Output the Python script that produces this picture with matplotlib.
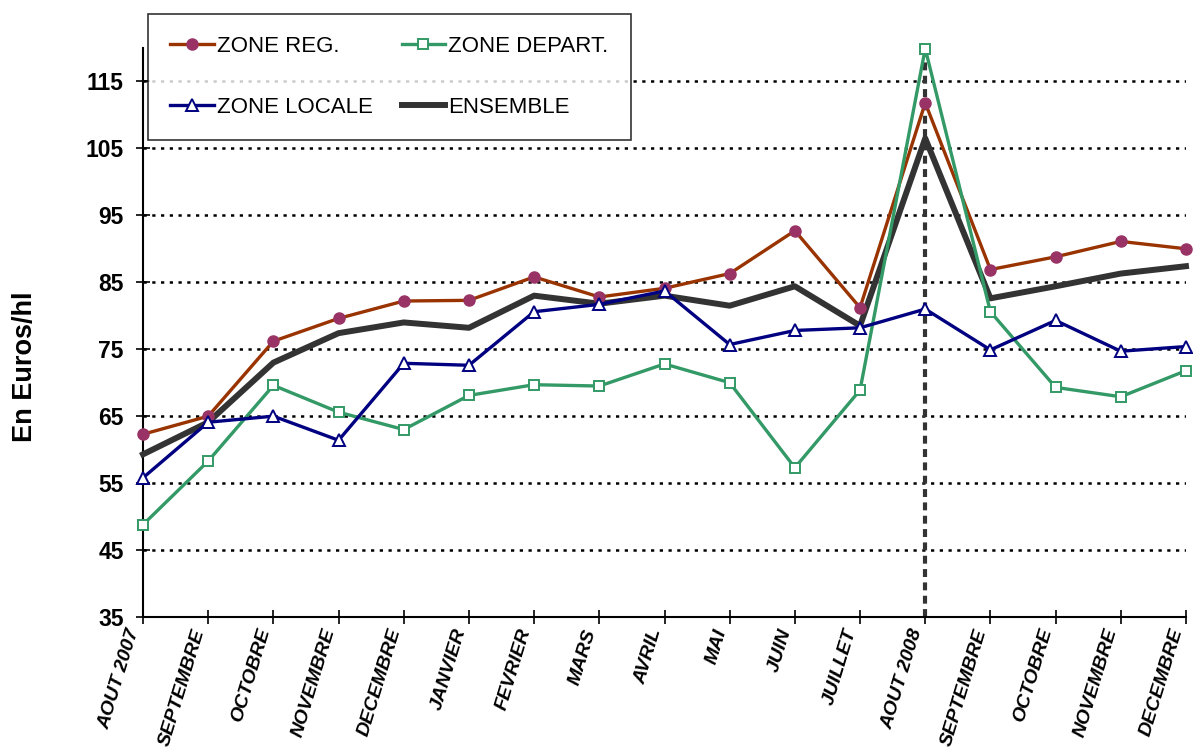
import numpy as np
import matplotlib
matplotlib.use("Agg")
import matplotlib.pyplot as plt

plt.rcParams['font.family'] = ['Liberation Sans', 'DejaVu Sans']

months = ["AOUT 2007", "SEPTEMBRE", "OCTOBRE", "NOVEMBRE", "DECEMBRE", "JANVIER",
          "FEVRIER", "MARS", "AVRIL", "MAI", "JUIN", "JUILLET", "AOUT 2008",
          "SEPTEMBRE", "OCTOBRE", "NOVEMBRE", "DECEMBRE"]

zone_reg = [62.3, 65.0, 76.2, 79.6, 82.2, 82.3, 85.8, 82.8, 84.1, 86.3, 92.7,
            81.2, 111.8, 86.9, 88.8, 91.1, 90.0]
zone_depart = [48.8, 58.3, 69.6, 65.6, 63.0, 68.1, 69.7, 69.5, 72.8, 70.0, 57.3,
               68.9, 119.9, 80.6, 69.3, 67.9, 71.8]
zone_locale = [55.8, 64.1, 65.0, 61.4, 72.9, 72.6, 80.6, 81.7, 83.7, 75.7, 77.8,
               78.2, 81.0, 74.9, 79.3, 74.7, 75.4]
ensemble = [59.3, 64.1, 73.0, 77.4, 79.0, 78.2, 83.0, 81.8, 83.0, 81.5, 84.4,
            78.5, 106.5, 82.6, 84.4, 86.3, 87.4]

yticks = [35, 45, 55, 65, 75, 85, 95, 105, 115]
marker_month = 12  # AOUT 2008

fig = plt.figure(figsize=(11.93, 7.49), dpi=100)
ax = fig.add_axes([0.1199, 0.1762, 0.8742, 0.7598])

x = np.arange(len(months))

for yv in yticks[1:]:
    ax.axhline(yv, color="black", lw=1.8, ls=(0, (1.3, 2.2)), zorder=1)

ax.axvline(marker_month, ymax=0.988, color="#333333", lw=3, ls=(0, (1.9, 1.3)), zorder=2)

l_reg, = ax.plot(x, zone_reg, color="#993300", lw=2.4, marker="o", ms=8,
                 mfc="#993366", mec="#993366", zorder=4, clip_on=False)
l_dep, = ax.plot(x, zone_depart, color="#339966", lw=2.4, marker="s", ms=7,
                 mfc="white", mec="#339966", mew=1.4, zorder=4, clip_on=False)
l_loc, = ax.plot(x, zone_locale, color="#000080", lw=2.4, marker="^", ms=8.5,
                 mfc="white", mec="#000080", mew=1.4, zorder=5, clip_on=False)
l_ens, = ax.plot(x, ensemble, color="#333333", lw=4.3, zorder=3, clip_on=False)

ax.set_xlim(0, len(months) - 1)
ax.set_ylim(35, 120)
ax.set_yticks(yticks)
ax.set_yticklabels([str(v) for v in yticks], fontsize=16.5, fontweight="bold")
ax.set_xticks(x)
ax.set_xticklabels(months, rotation=73, ha="right", va="top", fontsize=14,
                   fontweight="bold", fontstyle="italic")
ax.tick_params(axis="both", direction="inout", length=10, width=1.2, color="black")
ax.tick_params(axis="y", pad=9)
ax.tick_params(axis="x", pad=2)

for side in ["top", "right"]:
    ax.spines[side].set_visible(False)
for side in ["left", "bottom"]:
    ax.spines[side].set_linewidth(1.5)
    ax.spines[side].set_color("black")

fig.text(25 / 1193, 1 - 367 / 749, "En Euros/hl", rotation=90, ha="center", va="center",
         fontsize=19.5, fontweight="bold")

leg = fig.legend([l_reg, l_loc, l_dep, l_ens],
                 ["ZONE REG.", "ZONE LOCALE", "ZONE DEPART.", "ENSEMBLE"],
                 ncol=2, loc="upper left", bbox_to_anchor=(148 / 1193, 1 - 14 / 749),
                 borderaxespad=0, fontsize=16, frameon=True, fancybox=False,
                 handlelength=1.95, handletextpad=0.15, columnspacing=1.3,
                 labelspacing=1.8, borderpad=1.0)
leg.get_frame().set_edgecolor("black")
leg.get_frame().set_linewidth(1.2)

fig.savefig("out.png", dpi=100)
